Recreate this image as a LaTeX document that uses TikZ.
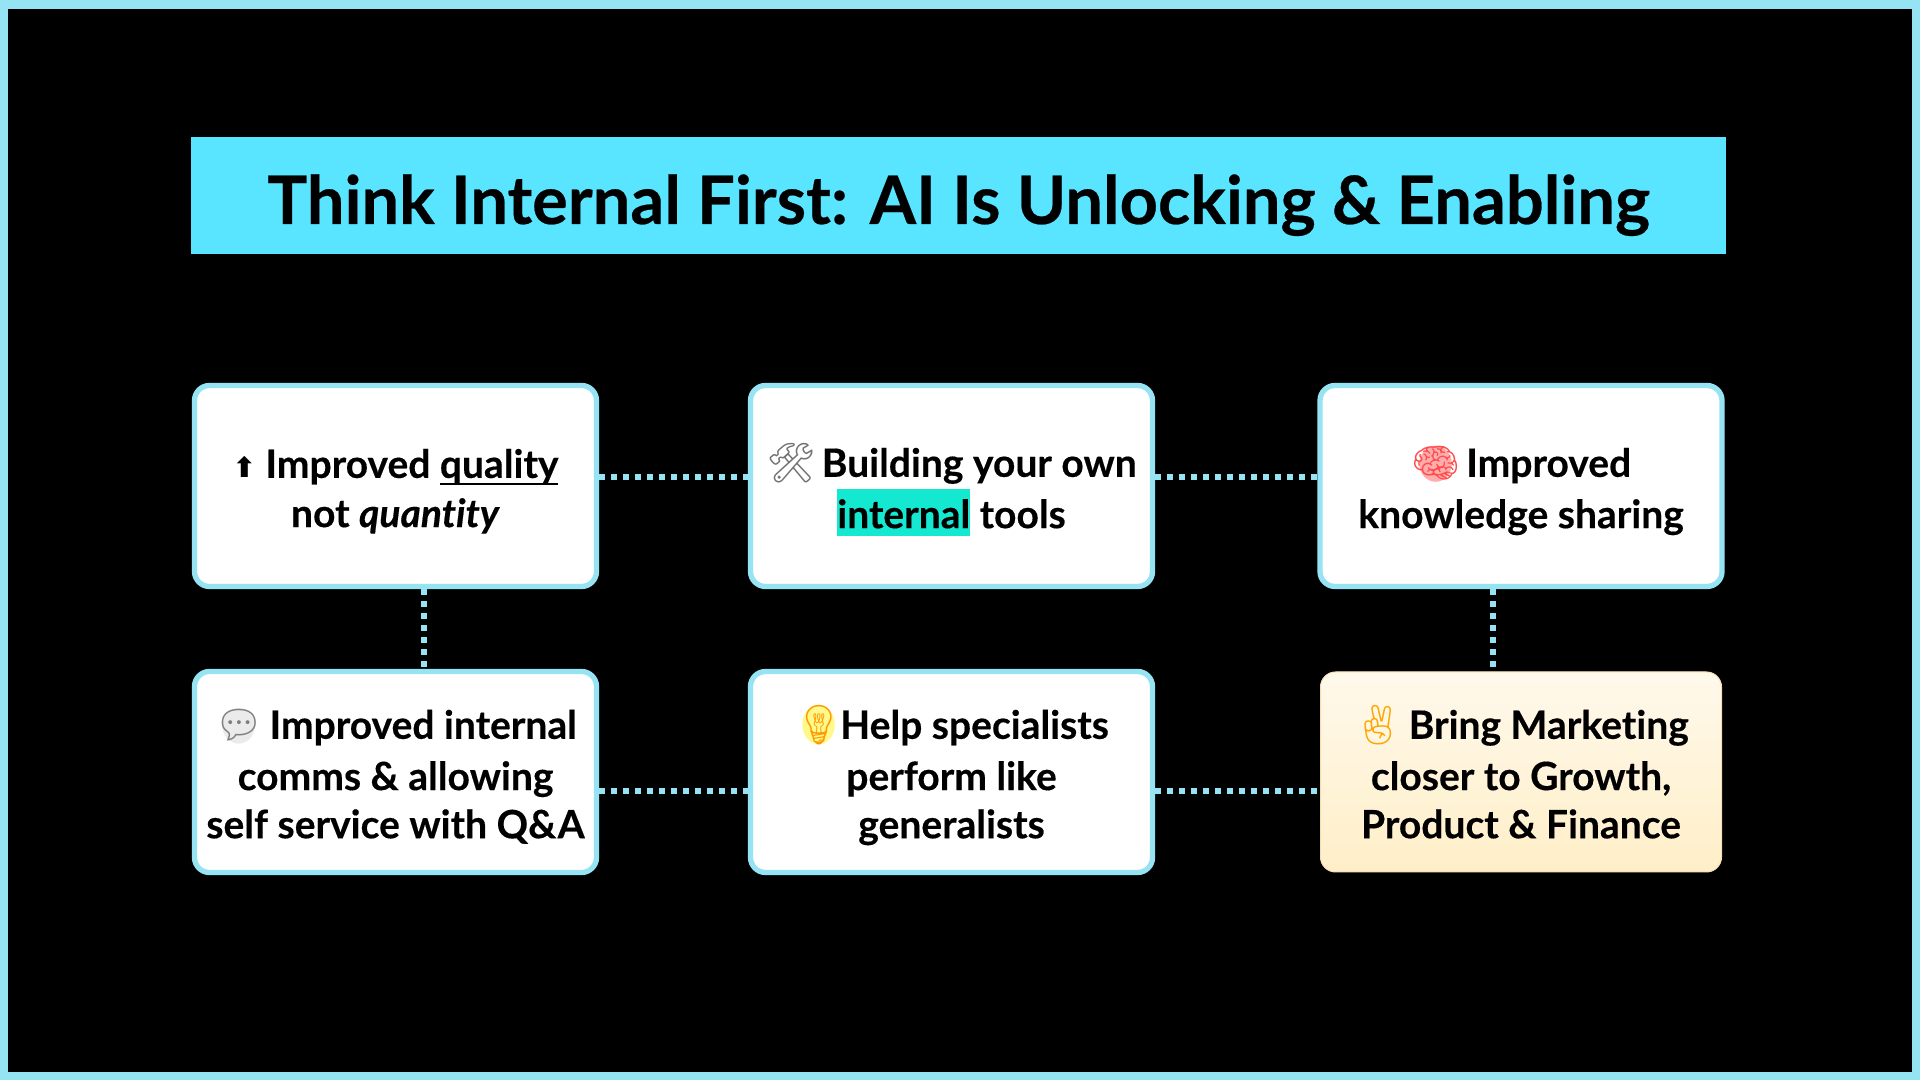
\documentclass[tikz,border=0pt]{standalone}
\usepackage{fontspec}
\usepackage{xcolor}
\usetikzlibrary{positioning}
\setmainfont{Lato}[BoldFont={Lato Bold},BoldItalicFont={Lato Bold Italic},
  BoldFeatures={FakeBold=.35,RawFeature=-liga},BoldItalicFeatures={FakeBold=.35,RawFeature=-liga}]
\newfontfamily\emojifont{Noto Emoji}
\newfontfamily\symbfont{DejaVu Sans}
\definecolor{framecyan}{HTML}{96E4F3}
\definecolor{titlecyan}{HTML}{59E4FF}
\definecolor{marktint}{HTML}{14E8D0}
\definecolor{creamtop}{HTML}{FFF9EC}
\definecolor{creambot}{HTML}{FFEFC8}
\newsavebox{\ulinebox}
\newsavebox{\emobox}
\newcommand{\cardtop}{\rule{0pt}{12pt}}
\newcommand{\emo}[2]{\smash{\emojifont\color{#1}#2}\hspace{-1pt}}
% tinted disc under the emoji outline
\newcommand{\emofill}[3]{\smash{\emojifont\sbox{\emobox}{\color{#2}#3}\makebox[0pt][l]{\makebox[\wd\emobox]{\raisebox{.02\ht\emobox}{\color{#1}\resizebox{.75\wd\emobox}{\ht\emobox}{\symbfont ●}}}}\usebox{\emobox}}\hspace{-1pt}}
\newcommand{\marked}[1]{\smash{\setlength{\fboxsep}{0pt}\colorbox{marktint}{\rule[-2.3pt]{0pt}{13.4pt}#1}}}
\newcommand{\ruled}[1]{\sbox{\ulinebox}{#1}\rlap{\rule[-2.1pt]{\wd\ulinebox}{.7pt}}\usebox{\ulinebox}}

\begin{document}
\begin{tikzpicture}[
  card/.style={rectangle,rounded corners=.15cm,draw=framecyan,line width=.053cm,fill=white,
    minimum width=4.02cm,minimum height=2.01cm,align=center,text=black,inner sep=0pt,
    font=\fontsize{11.1}{14}\selectfont\bfseries,execute at end node={\rule[-2.6pt]{0pt}{0pt}}},
  creamcard/.style={card,draw=creambot!85!brown,line width=.01cm,top color=creamtop,bottom color=creambot,
    minimum width=4.01cm,minimum height=2cm},
  dots/.style={framecyan,line width=.06cm,dash pattern=on .06cm off .06cm}]
  \fill[framecyan] (0,0) rectangle (19.2,10.8);
  \fill[black] (.08,.08) rectangle (19.12,10.71);

  \node[fill=titlecyan,minimum width=15.35cm,minimum height=1.17cm,inner sep=0pt,text=black,
    text height=.57cm,text depth=0pt,
    font=\fontsize{19}{22}\selectfont\bfseries] (title) at (9.585,8.845) {Think Internal First: AI Is Unlocking \& Enabling};

  \node[card] (quality) at (3.955,5.94) {\cardtop\smash{\symbfont\fontsize{8}{8}\selectfont ⬆} Improved \ruled{quality}\\not \textit{quantity}};
  \node[card] (tools) at (9.515,5.94) {\cardtop\emo{black!55}{🛠} Building your own\\[.6pt]\marked{internal} tools};
  \node[card] (brain) at (15.21,5.94) {\cardtop\emofill{pink!90!red}{red!60!pink}{🧠} Improved\\[.6pt]knowledge sharing};
  \node[card] (comms) at (3.955,3.08) {\cardtop\emofill{black!8}{black!50}{💬} Improved internal\\[.6pt]comms \& allowing\\[-.3pt]self service with Q\&A};
  \node[card] (bulb) at (9.515,3.08) {\cardtop\emofill{yellow!45}{orange!80!yellow}{💡}Help specialists\\[.6pt]perform like\\[-.3pt]generalists};
  \node[creamcard] (growth) at (15.21,3.08) {\cardtop\emo{orange!70!yellow}{✌} Bring Marketing\\[.6pt]closer to Growth,\\[-.3pt]Product \& Finance};

  \draw[dots] ([yshift=.09cm]quality.east) -- ([yshift=.09cm]tools.west);
  \draw[dots] ([yshift=.09cm]tools.east) -- ([yshift=.09cm]brain.west);
  \draw[dots] ([yshift=-.19cm]comms.east) -- ([yshift=-.19cm]bulb.west);
  \draw[dots] ([yshift=-.19cm]bulb.east) -- ([yshift=-.19cm]growth.west);
  \draw[dots] ([xshift=.28cm]quality.south) -- ([xshift=.28cm]comms.north);
  \draw[dots] ([xshift=-.28cm]brain.south) -- ([xshift=-.28cm]growth.north);
\end{tikzpicture}
\end{document}
